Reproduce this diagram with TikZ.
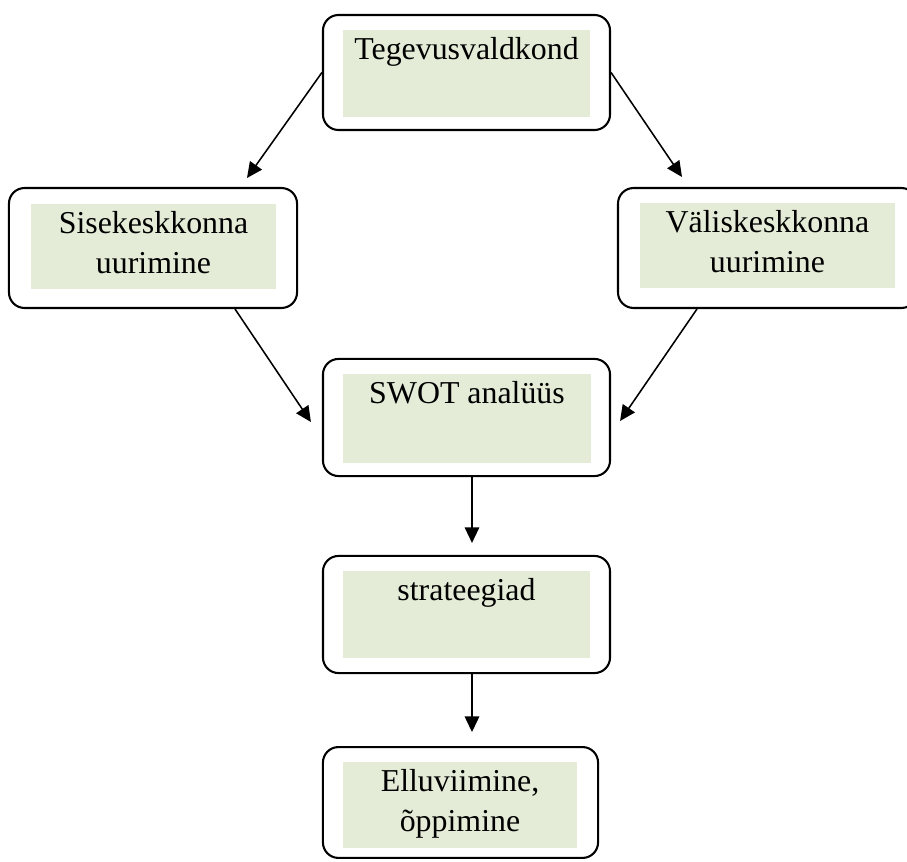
\documentclass[tikz,border=0pt]{standalone}
\usepackage{fontspec}
\setmainfont{Liberation Serif}
\usetikzlibrary{arrows.meta,calc}
\definecolor{roheline}{RGB}{228,236,215}
\newcommand{\tekst}[3]{\begin{minipage}[c][#2][t]{#1}\centering
  \fontsize{12.3pt}{15.4pt}\selectfont\rule{0pt}{11.4pt}#3\end{minipage}}

\begin{document}
\begin{tikzpicture}[x=0.386pt,y=-0.386pt,line width=0.6pt]
  \tikzstyle{kast}=[draw,line width=0.8pt,rounded corners=6pt,inner sep=0pt]
  \tikzstyle{sisu}=[fill=roheline,inner sep=0pt]
  \tikzstyle{nool}=[-{Triangle[length=6pt,width=5.6pt]}]
  \useasboundingbox (0,0) rectangle (907,862);
  % raamid
  \node[kast,minimum width=110.8pt,minimum height=44.4pt] (tegevus) at (466.5,72.5) {};
  \node[kast,minimum width=111.2pt,minimum height=46.3pt] (sise) at (153,248) {};
  \node[kast,minimum width=115.4pt,minimum height=46.3pt] (valis) at (767.5,248) {};
  \node[kast,minimum width=110.8pt,minimum height=45.2pt] (swot) at (466.5,417.5) {};
  \node[kast,minimum width=110.8pt,minimum height=45.2pt] (strat) at (466.5,614.5) {};
  \node[kast,minimum width=106.2pt,minimum height=42.8pt] (ellu) at (460.5,802.5) {};
  % rohelised tekstiv\"aljad
  \node[sisu] (tegevus-t) at (466.5,73.5) {\tekst{95.3pt}{33.6pt}{Tegevusvaldkond}};
  \node[sisu] (sise-t) at (153.5,246.5) {\tekst{94.6pt}{32.8pt}{Sisekeskkonna\\uurimine}};
  \node[sisu] (valis-t) at (767.5,245.5) {\tekst{98.4pt}{32.8pt}{Väliskeskkonna\\uurimine}};
  \node[sisu] (swot-t) at (467,418.5) {\tekst{95.7pt}{34.4pt}{SWOT analüüs}};
  \node[sisu] (strat-t) at (466.5,614.5) {\tekst{95.3pt}{33.6pt}{strateegiad}};
  \node[sisu] (ellu-t) at (460,805) {\tekst{90.3pt}{33.2pt}{Elluviimine,\\õppimine}};
  % nooled
  \draw[nool] (tegevus.west) -- ($(sise.north)+(94,-9)$);
  \draw[nool] (tegevus.east) -- ($(valis.north)+(-85.5,-10)$);
  \draw[nool] ($(sise.south)+(82,0)$) -- ($(swot.west)+(-11,4.5)$);
  \draw[nool] ($(valis.south)+(-70.5,0)$) -- ($(swot.east)+(9,3.5)$);
  \draw[nool] ($(swot.south)+(5.5,0)$) -- ($(strat.north)+(5.5,-12)$);
  \draw[nool] ($(strat.south)+(5.5,0)$) -- ($(ellu.north)+(11.5,-14)$);
\end{tikzpicture}
\end{document}
